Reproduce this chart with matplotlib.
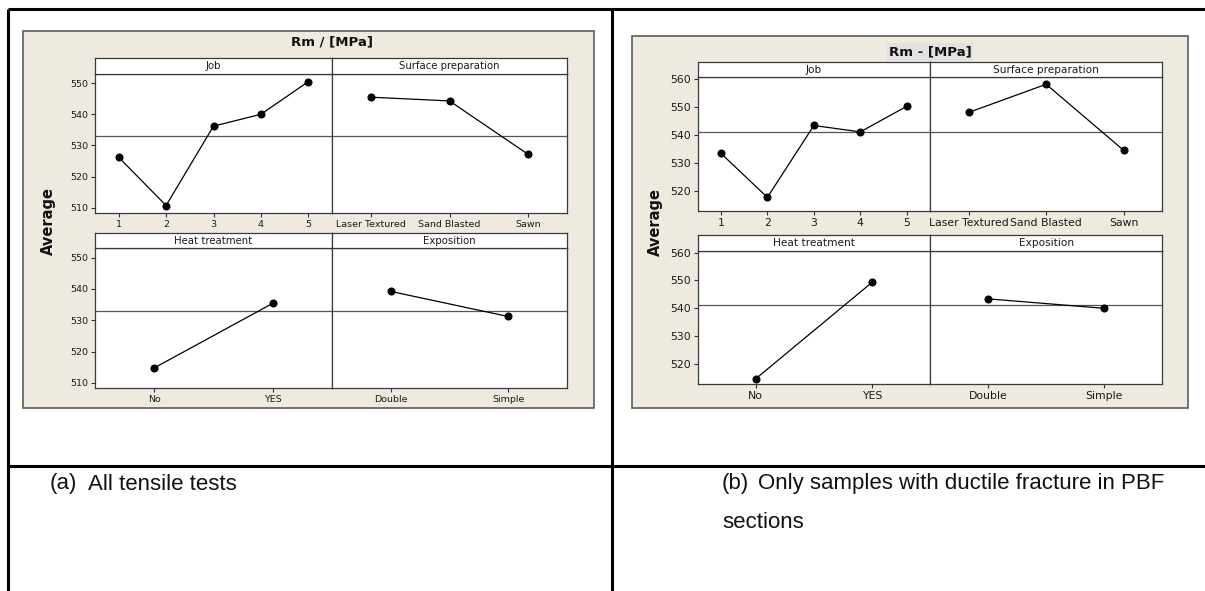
import matplotlib
matplotlib.use('Agg')
import matplotlib.pyplot as plt
from matplotlib.patches import Rectangle

W, H = 1205, 591
DPI = 100

# ---------------- data ----------------
job_levels = ['1', '2', '3', '4', '5']
surface_levels = ['Laser Textured', 'Sand Blasted', 'Sawn']
heat_levels = ['No', 'YES']
expo_levels = ['Double', 'Simple']

a_job = [526.2, 510.7, 536.2, 540.0, 550.5]
a_surface = [545.5, 544.3, 527.2]
a_heat = [514.8, 535.4]
a_expo = [539.2, 531.2]
a_mean = 532.9
a_yticks = [510, 520, 530, 540, 550]

b_job = [533.4, 517.6, 543.4, 541.1, 550.3]
b_surface = [548.1, 558.2, 534.5]
b_heat = [514.7, 549.3]
b_expo = [543.4, 540.0]
b_mean = 541.1
b_yticks = [520, 530, 540, 550, 560]

factor_names = ['Job', 'Surface preparation', 'Heat treatment', 'Exposition']

caption_a = ('(a)', 'All tensile tests')
caption_b = ('(b)', 'Only samples with ductile fracture in PBF', 'sections')

# ---------------- figure ----------------
fig = plt.figure(figsize=(W / DPI, H / DPI), dpi=DPI)
fig.patch.set_facecolor('white')

bg = fig.add_axes([0, 0, 1, 1], zorder=0)
bg.set_xlim(0, W)
bg.set_ylim(H, 0)
bg.axis('off')


def px_axes(x0, y0, x1, y1, z=2):
    return fig.add_axes([x0 / W, 1 - y1 / H, (x1 - x0) / W, (y1 - y0) / H], zorder=z)


BEIGE = '#EEEAE0'
FRAME = '#5c5c5c'
PAN = '#3a3a3a'


def panel(x0, x1, yh, yt, yb, name, levels, values, mean, ylim, yticks,
          show_y, fs, hfs):
    ax = px_axes(x0, yt, x1, yb)
    ax.set_facecolor('white')
    xs = list(range(1, len(levels) + 1))
    ax.axhline(mean, color='#555555', lw=0.9, zorder=1)
    ax.plot(xs, values, color='black', lw=0.9, marker='o', ms=4.8, zorder=3)
    ax.set_xlim(0.5, len(levels) + 0.5)
    ax.set_ylim(*ylim)
    ax.set_xticks(xs)
    ax.set_xticklabels(levels, fontsize=fs, color='#1a1a1a')
    if show_y:
        ax.set_yticks(yticks)
        ax.set_yticklabels([str(t) for t in yticks], fontsize=fs, color='#1a1a1a')
    else:
        ax.set_yticks([])
    ax.tick_params(direction='out', length=3, width=0.8, pad=2, color='#333333')
    for s in ax.spines.values():
        s.set_color(PAN)
        s.set_linewidth(0.9)
    hdr = px_axes(x0, yh, x1, yt)
    hdr.set_facecolor('white')
    hdr.set_xticks([])
    hdr.set_yticks([])
    for s in hdr.spines.values():
        s.set_color(PAN)
        s.set_linewidth(0.9)
    hdr.text(0.5, 0.5, name, ha='center', va='center', fontsize=hfs,
             color='#1a1a1a', transform=hdr.transAxes)
    return ax


# ---- chart (a) ----
bg.add_patch(Rectangle((23, 31), 594 - 23, 408 - 31, facecolor=BEIGE,
                       edgecolor=FRAME, lw=1.2))
bg.text(332, 42, 'Rm / [MPa]', ha='center', va='center', fontsize=9.5,
        fontweight='bold', color='#111111')
bg.text(48, 221, 'Average', ha='center', va='center', rotation=90,
        fontsize=10.5, fontweight='bold', color='#111111')
ylim_a = (508.3, 552.95)
fa, ha_ = 6.8, 7.3
panel(95, 332, 58, 74, 213, factor_names[0], job_levels, a_job, a_mean,
      ylim_a, a_yticks, True, fa, ha_)
panel(332, 567, 58, 74, 213, factor_names[1], surface_levels, a_surface,
      a_mean, ylim_a, a_yticks, False, fa, ha_)
panel(95, 332, 232.7, 248.3, 388.3, factor_names[2], heat_levels, a_heat,
      a_mean, ylim_a, a_yticks, True, fa, ha_)
panel(332, 567, 232.7, 248.3, 388.3, factor_names[3], expo_levels, a_expo,
      a_mean, ylim_a, a_yticks, False, fa, ha_)

# ---- chart (b) ----
bg.add_patch(Rectangle((632, 36), 1188 - 632, 408 - 36, facecolor=BEIGE,
                       edgecolor=FRAME, lw=1.2))
bg.text(930, 52, 'Rm - [MPa]', ha='center', va='center', fontsize=9.5,
        fontweight='bold', color='#111111',
        bbox=dict(facecolor='#E2E2E2', edgecolor='none', pad=1.5))
bg.text(655, 222, 'Average', ha='center', va='center', rotation=90,
        fontsize=10.5, fontweight='bold', color='#111111')
ylim_b = (512.7, 560.7)
fb, hb = 7.8, 7.6
panel(697.7, 930, 62.3, 77.3, 211, factor_names[0], job_levels, b_job, b_mean,
      ylim_b, b_yticks, True, fb, hb)
panel(930, 1162.3, 62.3, 77.3, 211, factor_names[1], surface_levels, b_surface,
      b_mean, ylim_b, b_yticks, False, fb, hb)
panel(697.7, 930, 235, 250.7, 384.3, factor_names[2], heat_levels, b_heat,
      b_mean, ylim_b, b_yticks, True, fb, hb)
panel(930, 1162.3, 235, 250.7, 384.3, factor_names[3], expo_levels, b_expo,
      b_mean, ylim_b, b_yticks, False, fb, hb)

# ---- table lines ----
LW = 2.2
bg.plot([8, W], [9, 9], color='black', lw=LW, solid_capstyle='butt')
bg.plot([8, 8], [9, H], color='black', lw=LW, solid_capstyle='butt')
bg.plot([612, 612], [9, H], color='black', lw=LW, solid_capstyle='butt')
bg.plot([8, W], [466, 466], color='black', lw=LW, solid_capstyle='butt')

# ---- captions ----
cap_font = ['Liberation Sans Narrow', 'Liberation Sans', 'DejaVu Sans']
cfs = 16
bg.text(50, 484, caption_a[0], ha='left', va='center', fontsize=cfs,
        family=cap_font, color='#111111')
bg.text(88, 484, caption_a[1], ha='left', va='center', fontsize=cfs,
        family=cap_font, color='#111111')
bg.text(722, 484, caption_b[0], ha='left', va='center', fontsize=cfs,
        family=cap_font, color='#111111')
bg.text(758, 484, caption_b[1], ha='left', va='center', fontsize=cfs,
        family=cap_font, color='#111111')
bg.text(722, 523, caption_b[2], ha='left', va='center', fontsize=cfs,
        family=cap_font, color='#111111')

fig.savefig('out.png', dpi=DPI, facecolor='white')
